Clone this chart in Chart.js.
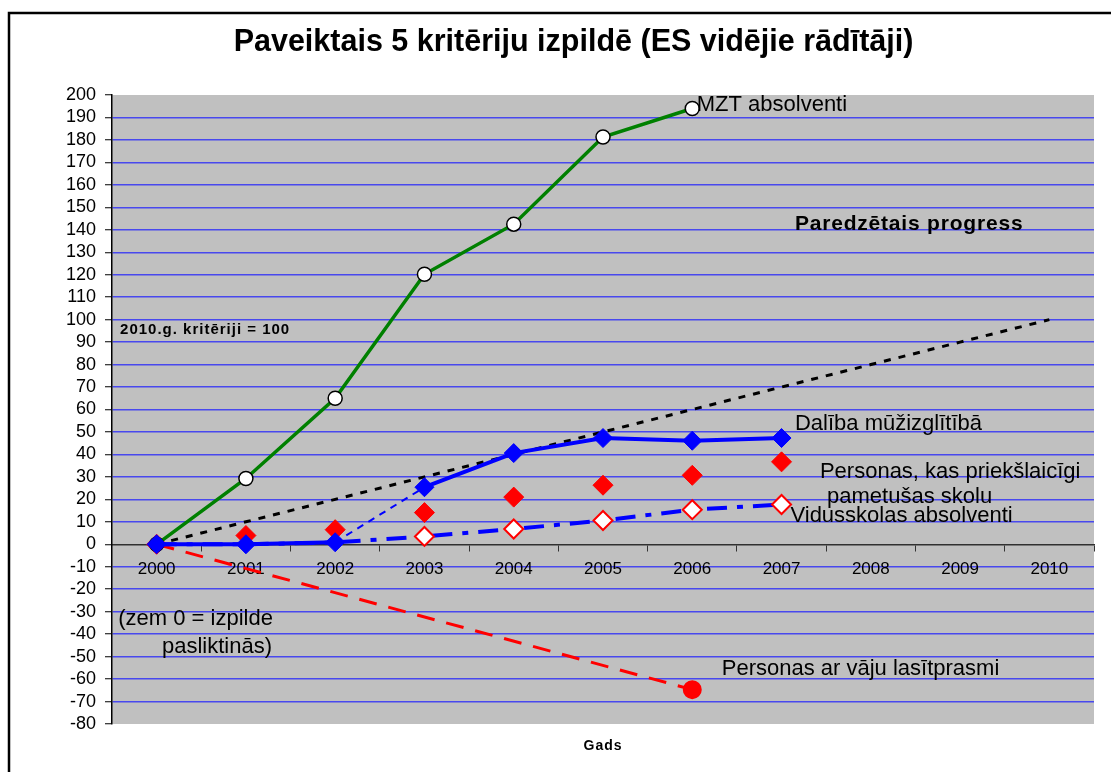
<!DOCTYPE html>
<html>
<head>
<meta charset="utf-8">
<script src="https://cdn.jsdelivr.net/npm/chart.js@4"></script>
<style>
  html, body { margin: 0; padding: 0; background: #fff; }
  #wrap { width: 1111px; height: 772px; position: relative; }
</style>
</head>
<body>
<div id="wrap"><canvas id="c" width="1111" height="772"></canvas></div>
<script>
// ---- data ----
const years = ['2000', '2001', '2002', '2003', '2004', '2005', '2006', '2007', '2008', '2009', '2010'];
const mztAbsolventi = [0, 29.3, 65, 120.2, 142.5, 181.3, 194, null, null, null, null];
const dalibaMuzizglitiba = [0, 0, 0.9, 25.4, 40.6, 47.3, 46.1, 47.3, null, null, null];
const vidusskolasAbsolventi = [0, 0, 0.8, 3.5, 6.8, 10.6, 15.4, 17.7, null, null, null];
const priekslaicigiPametusas = [0, 3.9, 6.5, 14.1, 21, 26.3, 30.7, 36.7, null, null, null];
const vajuLasitprasmi = [0, null, null, null, null, null, -64.7, null, null, null, null];
const paredzetaisProgress = [0, 10, 20, 30, 40, 50, 60, 70, 80, 90, 100];
const yTickValues = [-80, -70, -60, -50, -40, -30, -20, -10, 0, 10, 20, 30, 40, 50, 60, 70, 80, 90, 100, 110, 120, 130, 140, 150, 160, 170, 180, 190, 200];

const FONT = "'Liberation Sans', Arial, sans-serif";

// text notes anchored to data space (category index, value)
const notes = [
  { text: 'MZT absolventi', xi: 6.05, v: 195.5, size: 22, bold: false },
  { text: 'Paredzētais progress', xi: 7.15, v: 142.5, size: 21, bold: true, spacing: 0.8 },
  { text: '2010.g. kritēriji = 100', xi: -0.41, v: 95.3, size: 15, bold: true, spacing: 1 },
  { text: 'Dalība mūžizglītībā', xi: 7.15, v: 53.7, size: 22, bold: false },
  { text: 'Personas, kas priekšlaicīgi', xi: 7.43, v: 32.1, size: 22, bold: false },
  { text: 'pametušas skolu', xi: 7.51, v: 21, size: 22, bold: false },
  { text: 'Vidusskolas absolventi', xi: 7.10, v: 12.8, size: 22, bold: false },
  { text: '(zem 0 = izpilde', xi: -0.43, v: -33.2, size: 22, bold: false },
  { text: 'pasliktinās)', xi: 0.06, v: -45.5, size: 22, bold: false },
  { text: 'Personas ar vāju lasītprasmi', xi: 6.33, v: -55.4, size: 22, bold: false },
  { text: 'Gads', xi: 5, v: -89.7, size: 14, bold: true, spacing: 1, align: 'center' }
];

const decor = {
  id: 'decor',
  beforeDraw(chart) {
    const { ctx, chartArea: a } = chart;
    ctx.save();
    ctx.fillStyle = '#ffffff';
    ctx.fillRect(0, 0, chart.width, chart.height);
    ctx.strokeStyle = '#000';
    ctx.lineWidth = 2.5;
    ctx.strokeRect(9, 13, chart.width + 50, chart.height + 50);
    ctx.fillStyle = '#c0c0c0';
    ctx.fillRect(a.left, a.top, a.right - a.left, a.bottom - a.top);
    ctx.restore();
  },
  afterDraw(chart) {
    const { ctx } = chart;
    const xs = chart.scales.x, ys = chart.scales.y;
    ctx.save();
    ctx.fillStyle = '#000';
    ctx.textBaseline = 'middle';
    for (const n of notes) {
      ctx.font = (n.bold ? 'bold ' : '') + n.size + 'px ' + FONT;
      ctx.textAlign = n.align || 'left';
      try { ctx.letterSpacing = (n.spacing || 0) + 'px'; } catch (e) {}
      ctx.fillText(n.text, xs.getPixelForValue(n.xi), ys.getPixelForValue(n.v));
    }
    ctx.restore();
  }
};

new Chart(document.getElementById('c'), {
  type: 'line',
  data: {
    labels: years,
    datasets: [
      {
        label: 'Dalība mūžizglītībā',
        data: dalibaMuzizglitiba,
        borderColor: '#0000ff',
        backgroundColor: '#0000ff',
        borderWidth: 4,
        pointStyle: 'rectRot',
        pointRadius: 9.5,
        pointBackgroundColor: '#0000ff',
        pointBorderColor: '#0000ff',
        pointBorderWidth: 1,
        segment: {
          borderWidth: ctx => ctx.p0DataIndex === 2 ? 2 : 4,
          borderDash: ctx => ctx.p0DataIndex === 2 ? [7, 6] : []
        }
      },
      {
        label: 'MZT absolventi',
        data: mztAbsolventi,
        borderColor: '#008000',
        borderWidth: 3.5,
        pointStyle: 'circle',
        pointRadius: 7,
        pointBackgroundColor: '#ffffff',
        pointBorderColor: '#000000',
        pointBorderWidth: 1.5
      },
      {
        label: 'Vidusskolas absolventi',
        data: vidusskolasAbsolventi,
        borderColor: '#0000ff',
        borderWidth: 4,
        borderDash: [20, 10, 6, 10],
        borderCapStyle: 'butt',
        pointStyle: 'rectRot',
        pointRadius: [0, 0, 0, 9.5, 9.5, 9.5, 9.5, 9.5, 0, 0, 0],
        pointBackgroundColor: '#ffffff',
        pointBorderColor: '#ff0000',
        pointBorderWidth: 2
      },
      {
        label: 'Personas, kas priekšlaicīgi pametušas skolu',
        data: priekslaicigiPametusas,
        showLine: false,
        pointStyle: 'rectRot',
        pointRadius: 10,
        pointBackgroundColor: '#ff0000',
        pointBorderColor: '#ff0000',
        pointBorderWidth: 1
      },
      {
        label: 'Personas ar vāju lasītprasmi',
        data: vajuLasitprasmi,
        spanGaps: true,
        borderColor: '#ff0000',
        borderWidth: 3,
        borderDash: [18, 12],
        pointStyle: 'circle',
        pointRadius: [0, 0, 0, 0, 0, 0, 8, 0, 0, 0, 0],
        pointBackgroundColor: '#ff0000',
        pointBorderColor: '#ff0000'
      },
      {
        label: 'Paredzētais progress',
        data: paredzetaisProgress,
        borderColor: '#000000',
        borderWidth: 3,
        borderDash: [7, 8],
        pointRadius: 0
      }
    ]
  },
  options: {
    responsive: false,
    animation: false,
    events: [],
    layout: { padding: { left: 53, right: 17, top: 0, bottom: 48 } },
    plugins: {
      legend: { display: false },
      tooltip: { enabled: false },
      title: {
        display: true,
        text: 'Paveiktais 5 kritēriju izpildē (ES vidējie rādītāji)',
        color: '#000',
        font: { family: FONT, size: 30.5, weight: 'bold', lineHeight: 1.2 },
        padding: { top: 24, bottom: 34.4 }
      }
    },
    scales: {
      x: {
        type: 'category',
        position: { y: 0 },
        offset: true,
        grid: {
          offset: true,
          drawOnChartArea: false,
          drawTicks: true,
          tickLength: 6,
          tickColor: '#333',
          tickWidth: 1
        },
        border: { display: true, color: '#303030', width: 1.5 },
        ticks: {
          color: '#000',
          font: { family: FONT, size: 17 },
          padding: 9,
          maxRotation: 0,
          autoSkip: false
        }
      },
      y: {
        type: 'linear',
        position: 'left',
        min: -80,
        max: 200,
        afterFit: s => { s.width = 59; },
        afterBuildTicks: s => { s.ticks = yTickValues.map(v => ({ value: v })); },
        grid: {
          color: c => (c.tick && (c.tick.value === 0 || c.tick.value === 200 || c.tick.value === -80)) ? 'rgba(0,0,0,0)' : '#4848ee',
          lineWidth: 1.5,
          tickLength: 7,
          tickColor: '#000',
          tickWidth: 1
        },
        border: { display: true, color: '#000', width: 1.5 },
        ticks: {
          color: '#000',
          font: { family: FONT, size: 18, lineHeight: 1 },
          padding: 9,
          autoSkip: false
        }
      }
    }
  },
  plugins: [decor]
});
</script>
</body>
</html>
